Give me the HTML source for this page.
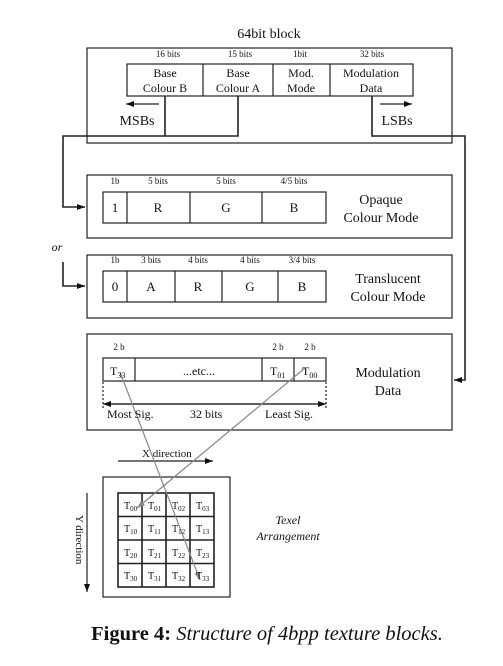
<!DOCTYPE html>
<html><head><style>
body{margin:0;background:#fff;}
svg text{font-family:"Liberation Serif",serif;fill:#111;}
</style></head><body>
<svg width="503" height="661" viewBox="0 0 503 661" xmlns="http://www.w3.org/2000/svg">
<defs>
<marker id="a" markerWidth="8" markerHeight="6" refX="8" refY="3" orient="auto" markerUnits="userSpaceOnUse"><path d="M0,0 L8,3 L0,6z" fill="#111"/></marker>
<marker id="g" markerWidth="8" markerHeight="6" refX="8" refY="3" orient="auto" markerUnits="userSpaceOnUse"><path d="M0,0 L8,3 L0,6z" fill="#888"/></marker>
</defs>
<g fill="none" stroke="#222" stroke-width="1.2">
<text x="269" y="38" font-size="14" text-anchor="middle" stroke="none">64bit block</text>
<rect x="87" y="48" width="365" height="95"/>
<rect x="127" y="64" width="286" height="32"/>
<line x1="203" y1="64" x2="203" y2="96"/><line x1="273" y1="64" x2="273" y2="96"/><line x1="330" y1="64" x2="330" y2="96"/>
<polyline points="165,96 165,136 63,136 63,207 85,207" stroke-width="1.6" marker-end="url(#a)"/>
<polyline points="238,96 238,136 165,136" stroke-width="1.6"/>
<polyline points="63,262 63,286 85,286" stroke-width="1.6" marker-end="url(#a)"/>
<polyline points="372,96 372,136 465,136 465,380 454,380" stroke-width="1.6" marker-end="url(#a)"/>
<line x1="159" y1="104" x2="126" y2="104" marker-end="url(#a)"/>
<line x1="380" y1="104" x2="412" y2="104" marker-end="url(#a)"/>
<rect x="87" y="175" width="365" height="63"/>
<rect x="103" y="192" width="223" height="31"/>
<line x1="127" y1="192" x2="127" y2="223"/><line x1="190" y1="192" x2="190" y2="223"/><line x1="262" y1="192" x2="262" y2="223"/>
<rect x="87" y="255" width="365" height="63"/>
<rect x="103" y="271" width="223" height="31"/>
<line x1="127" y1="271" x2="127" y2="302"/><line x1="175" y1="271" x2="175" y2="302"/><line x1="222" y1="271" x2="222" y2="302"/><line x1="278" y1="271" x2="278" y2="302"/>
<rect x="87" y="334" width="365" height="96"/>
<rect x="103" y="358" width="223" height="23"/>
<line x1="135" y1="358" x2="135" y2="381"/><line x1="262" y1="358" x2="262" y2="381"/><line x1="294" y1="358" x2="294" y2="381"/>
<line x1="103" y1="382" x2="103" y2="408" stroke-dasharray="2,2"/><line x1="326" y1="382" x2="326" y2="408" stroke-dasharray="2,2"/>
<line x1="110" y1="404" x2="326" y2="404" marker-end="url(#a)"/>
<line x1="319" y1="404" x2="103" y2="404" marker-end="url(#a)"/>
<line x1="118" y1="461" x2="213" y2="461" marker-end="url(#a)"/>
<line x1="87" y1="493" x2="87" y2="592" marker-end="url(#a)"/>
<rect x="103" y="477" width="127" height="120"/>
<rect x="118" y="493" width="96" height="94" stroke-width="1.6"/>
<line x1="142" y1="493" x2="142" y2="587" stroke-width="1.6"/><line x1="166" y1="493" x2="166" y2="587" stroke-width="1.6"/><line x1="190" y1="493" x2="190" y2="587" stroke-width="1.6"/>
<line x1="118" y1="516.5" x2="214" y2="516.5" stroke-width="1.6"/><line x1="118" y1="540" x2="214" y2="540" stroke-width="1.6"/><line x1="118" y1="563.5" x2="214" y2="563.5" stroke-width="1.6"/>
<line x1="120" y1="372" x2="200" y2="580" stroke="#888" marker-end="url(#g)"/>
<line x1="305" y1="368" x2="137" y2="508" stroke="#888" marker-end="url(#g)"/>
</g>
<g font-size="9" text-anchor="middle">
<text x="168" y="57">16 bits</text><text x="240" y="57">15 bits</text><text x="300" y="57">1bit</text><text x="372" y="57">32 bits</text>
</g>
<g font-size="12" text-anchor="middle">
<text x="165" y="77">Base</text><text x="165" y="92">Colour B</text>
<text x="238" y="77">Base</text><text x="238" y="92">Colour A</text>
<text x="301" y="77">Mod.</text><text x="301" y="92">Mode</text>
<text x="371" y="77">Modulation</text><text x="371" y="92">Data</text>
</g>
<text x="137" y="125" font-size="14" text-anchor="middle">MSBs</text>
<text x="397" y="125" font-size="14" text-anchor="middle">LSBs</text>
<g font-size="9" text-anchor="middle">
<text x="115" y="184">1b</text><text x="158" y="184">5 bits</text><text x="226" y="184">5 bits</text><text x="294" y="184">4/5 bits</text>
<text x="115" y="263">1b</text><text x="151" y="263">3 bits</text><text x="198" y="263">4 bits</text><text x="250" y="263">4 bits</text><text x="302" y="263">3/4 bits</text>
<text x="119" y="350">2 b</text><text x="278" y="350">2 b</text><text x="310" y="350">2 b</text>
</g>
<g font-size="13" text-anchor="middle">
<text x="115" y="212">1</text><text x="158" y="212">R</text><text x="226" y="212">G</text><text x="294" y="212">B</text>
<text x="115" y="291">0</text><text x="151" y="291">A</text><text x="198" y="291">R</text><text x="250" y="291">G</text><text x="302" y="291">B</text>
</g>
<g font-size="14" text-anchor="middle">
<text x="381" y="204">Opaque</text><text x="381" y="222">Colour Mode</text>
<text x="388" y="283">Translucent</text><text x="388" y="301">Colour Mode</text>
<text x="388" y="377">Modulation</text><text x="388" y="395">Data</text>
</g>
<text x="57" y="251" font-size="12" font-style="italic" text-anchor="middle" fill="#223">or</text>
<g font-size="12">
<text x="110" y="375">T<tspan font-size="8" dy="3">33</tspan></text>
<text x="199" y="375" text-anchor="middle">...etc...</text>
<text x="270" y="375">T<tspan font-size="8" dy="3">01</tspan></text>
<text x="302" y="375">T<tspan font-size="8" dy="3">00</tspan></text>
<text x="107" y="418">Most Sig.</text><text x="190" y="418">32 bits</text><text x="265" y="418">Least Sig.</text>
<text x="142" y="457" font-size="11">X direction</text>
<text x="76" y="515" font-size="11" transform="rotate(90 76 515)">Y direction</text>
</g>
<g font-size="10">
<text x="124" y="509">T<tspan font-size="7" dy="2">00</tspan></text><text x="148" y="509">T<tspan font-size="7" dy="2">01</tspan></text><text x="172" y="509">T<tspan font-size="7" dy="2">02</tspan></text><text x="196" y="509">T<tspan font-size="7" dy="2">03</tspan></text>
<text x="124" y="532">T<tspan font-size="7" dy="2">10</tspan></text><text x="148" y="532">T<tspan font-size="7" dy="2">11</tspan></text><text x="172" y="532">T<tspan font-size="7" dy="2">12</tspan></text><text x="196" y="532">T<tspan font-size="7" dy="2">13</tspan></text>
<text x="124" y="556">T<tspan font-size="7" dy="2">20</tspan></text><text x="148" y="556">T<tspan font-size="7" dy="2">21</tspan></text><text x="172" y="556">T<tspan font-size="7" dy="2">22</tspan></text><text x="196" y="556">T<tspan font-size="7" dy="2">23</tspan></text>
<text x="124" y="579">T<tspan font-size="7" dy="2">30</tspan></text><text x="148" y="579">T<tspan font-size="7" dy="2">31</tspan></text><text x="172" y="579">T<tspan font-size="7" dy="2">32</tspan></text><text x="196" y="579">T<tspan font-size="7" dy="2">33</tspan></text>
</g>
<g font-size="12" font-style="italic" text-anchor="middle">
<text x="288" y="524">Texel</text><text x="288" y="540">Arrangement</text>
</g>
<text x="267" y="640" font-size="20.5" text-anchor="middle"><tspan font-weight="bold">Figure 4:</tspan><tspan font-style="italic"> Structure of 4bpp texture blocks.</tspan></text>
</svg>
</body></html>
